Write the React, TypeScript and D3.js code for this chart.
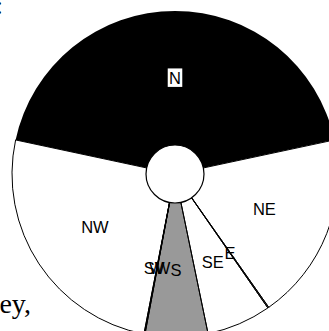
import React from "react";
import * as d3 from "d3";

const categories = ["N", "NE", "E", "SE", "S", "SW", "W", "NW"];
const values = [43.3, 18.6, 0.1, 6.4, 6.2, 0.05, 0.05, 25.3];
const fills = ["#000000", "#ffffff", "#ffffff", "#ffffff", "#999999", "#ffffff", "#ffffff", "#ffffff"];

const W = 329;
const H = 331;
const cx = 175;
const cy = 174;
const R = 163;
const r0 = 29;

export default function App() {
  const total = d3.sum(values);
  const start = -Math.PI * (values[0] / total);
  const pie = d3
    .pie<number>()
    .sort(null)
    .startAngle(start)
    .endAngle(start + 2 * Math.PI);
  const arcs = pie(values);
  const arc = d3.arc<d3.PieArcDatum<number>>().innerRadius(0).outerRadius(R);
  const labelArc = d3.arc<d3.PieArcDatum<number>>().innerRadius(r0).outerRadius(R);
  const fontSize = 16.5;

  return (
    <svg
      width={W}
      height={H}
      style={{ position: "absolute", left: 0, top: 0, background: "#fff" }}
    >
      <text x={3} y={14} textAnchor="end" fontFamily="Liberation Serif, serif" fontSize={26} fill="#000">
        e:
      </text>
      <text x={31} y={313} textAnchor="end" fontFamily="Liberation Serif, serif" fontSize={28} fill="#000">
        ey,
      </text>
      <g transform={`translate(${cx},${cy})`}>
        {arcs.map((a, i) => (
          <path key={categories[i]} d={arc(a) || ""} fill={fills[i]} stroke="none" />
        ))}
        {arcs.map((a, i) => {
          const [x, y] = labelArc.centroid(a);
          const name = categories[i];
          const w = name.length * fontSize * 0.7 + 3;
          return (
            <g key={"l" + name} transform={`translate(${x},${y})`}>
              {i === 0 && (
                <rect x={-w / 2} y={-fontSize * 0.58} width={w} height={fontSize * 1.12} fill="#fff" />
              )}
              <text
                textAnchor="middle"
                dominantBaseline="central"
                fontFamily="Liberation Sans, Arial, sans-serif"
                fontSize={fontSize}
                fill="#000"
              >
                {name}
              </text>
            </g>
          );
        })}
        {arcs.map((a, i) =>
          i === 0 ? null : (
            <path key={"s" + categories[i]} d={arc(a) || ""} fill="none" stroke="#000" strokeWidth={1} />
          )
        )}
        <circle r={r0} fill="#fff" stroke="#000" strokeWidth={1.2} />
      </g>
    </svg>
  );
}
